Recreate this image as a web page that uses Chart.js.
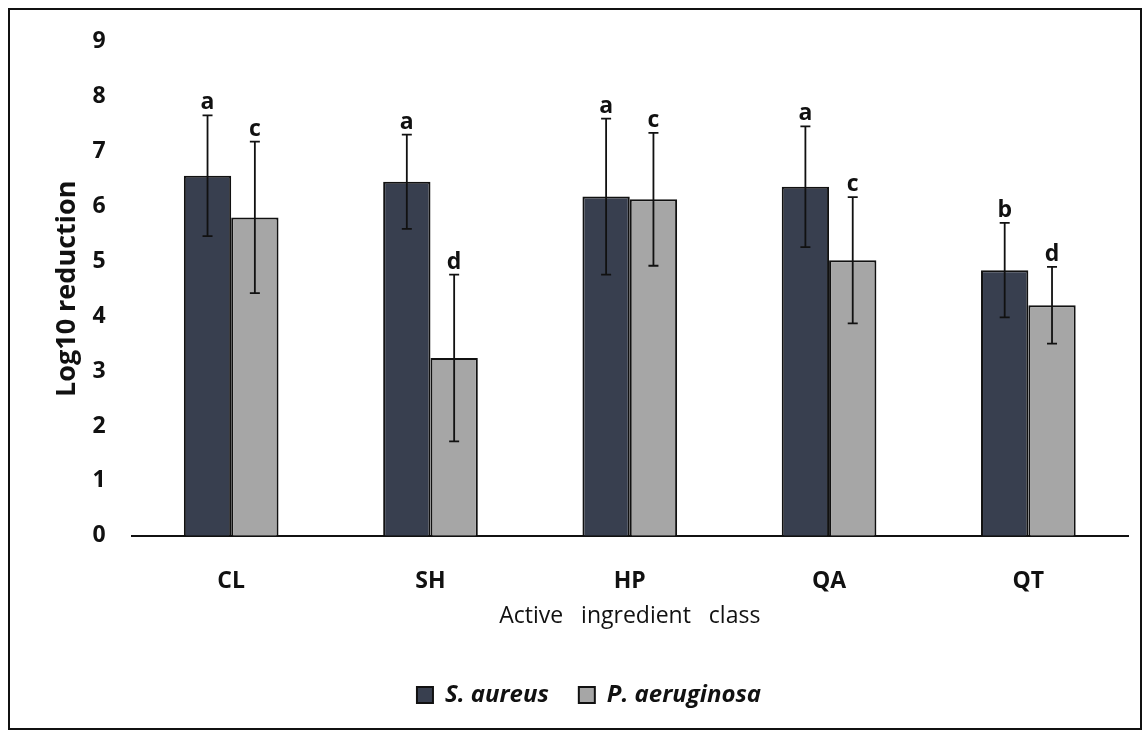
<!DOCTYPE html>
<html>
<head>
<meta charset="utf-8">
<script src="https://cdn.jsdelivr.net/npm/chart.js@4.4.0/dist/chart.umd.min.js"></script>
<style>
    body { margin: 0; background: #fff; }
    #frame {
        position: absolute;
        left: 8px;
        top: 8px;
        width: 1130px;
        height: 718px;
        border: 2px solid #111;
        overflow: hidden;
    }
    #chart { display: block; position: absolute; left: 0; top: -8px; }
</style>
</head>
<body>
<div id="frame"><canvas id="chart" width="1130" height="726"></canvas></div>
<script>
// Data
const categories = ['CL', 'SH', 'HP', 'QA', 'QT'];
const seriesNames = ['S. aureus', 'P. aeruginosa'];
const aureusMean = [6.56, 6.45, 6.18, 6.36, 4.84];
const aureusErr = [1.10, 0.86, 1.42, 1.10, 0.86];
const aureusLetters = ['a', 'a', 'a', 'a', 'b'];
const aeruginosaMean = [5.80, 3.24, 6.13, 5.02, 4.20];
const aeruginosaErr = [1.38, 1.52, 1.21, 1.15, 0.70];
const aeruginosaLetters = ['c', 'd', 'c', 'c', 'd'];
const yTicks = [0, 1, 2, 3, 4, 5, 6, 7, 8, 9];

const FONT = "'Open Sans', sans-serif";

const errors = [aureusErr, aeruginosaErr];
const letters = [aureusLetters, aeruginosaLetters];

// Error bars and significance letters
const errorBarPlugin = {
    id: 'errorBars',
    afterDatasetsDraw(chart) {
        const ctx = chart.ctx;
        const yScale = chart.scales.y;
        ctx.save();
        ctx.strokeStyle = '#111';
        ctx.lineWidth = 1.8;
        chart.data.datasets.forEach((ds, di) => {
            const meta = chart.getDatasetMeta(di);
            meta.data.forEach((bar, i) => {
                const v = ds.data[i];
                const e = errors[di][i];
                const x = bar.x;
                const yTop = yScale.getPixelForValue(v + e);
                const yBot = yScale.getPixelForValue(v - e);
                ctx.beginPath();
                ctx.moveTo(x, yTop);
                ctx.lineTo(x, yBot);
                ctx.moveTo(x - 5, yTop);
                ctx.lineTo(x + 5, yTop);
                ctx.moveTo(x - 5, yBot);
                ctx.lineTo(x + 5, yBot);
                ctx.stroke();

                ctx.fillStyle = '#111';
                ctx.font = 'bold 23px ' + FONT;
                ctx.textAlign = 'center';
                ctx.textBaseline = 'alphabetic';
                ctx.fillText(letters[di][i], x, yTop - 6);
            });
        });
        ctx.restore();
    }
};

new Chart(document.getElementById('chart'), {
    type: 'bar',
    data: {
        labels: categories,
        datasets: [
            {
                label: seriesNames[0],
                data: aureusMean,
                backgroundColor: '#383f4f',
                borderColor: '#111',
                borderWidth: 2,
                borderSkipped: 'bottom'
            },
            {
                label: seriesNames[1],
                data: aeruginosaMean,
                backgroundColor: '#a6a6a6',
                borderColor: '#111',
                borderWidth: 2,
                borderSkipped: 'bottom'
            }
        ]
    },
    options: {
        responsive: false,
        animation: false,
        categoryPercentage: 0.475,
        barPercentage: 1.0,
        layout: { padding: { left: 40, right: 12, top: 5, bottom: 11 } },
        plugins: {
            legend: {
                position: 'bottom',
                labels: {
                    color: '#111',
                    boxWidth: 16,
                    boxHeight: 16,
                    padding: 30,
                    font: { family: FONT, size: 24, weight: 'bold', style: 'italic' }
                }
            },
            tooltip: { enabled: false }
        },
        scales: {
            x: {
                grid: { display: false, drawTicks: false },
                border: { display: true, color: '#111', width: 2 },
                ticks: {
                    color: '#111',
                    padding: 32,
                    font: { family: FONT, size: 23, weight: 'bold' }
                },
                title: {
                    display: true,
                    text: 'Active   ingredient   class',
                    color: '#111',
                    padding: { top: -25, bottom: 23 },
                    font: { family: FONT, size: 23 }
                }
            },
            y: {
                min: 0,
                max: 9,
                afterBuildTicks(axis) {
                    axis.ticks = yTicks.map(v => ({ value: v }));
                },
                grid: { display: false, drawTicks: false },
                border: { display: false },
                ticks: {
                    color: '#111',
                    padding: 26,
                    font: { family: FONT, size: 23, weight: 'bold' }
                },
                title: {
                    display: true,
                    text: 'Log10 reduction',
                    color: '#111',
                    padding: { top: 1, bottom: -17 },
                    font: { family: FONT, size: 27, weight: 'bold' }
                }
            }
        }
    },
    plugins: [errorBarPlugin]
});
</script>
</body>
</html>
